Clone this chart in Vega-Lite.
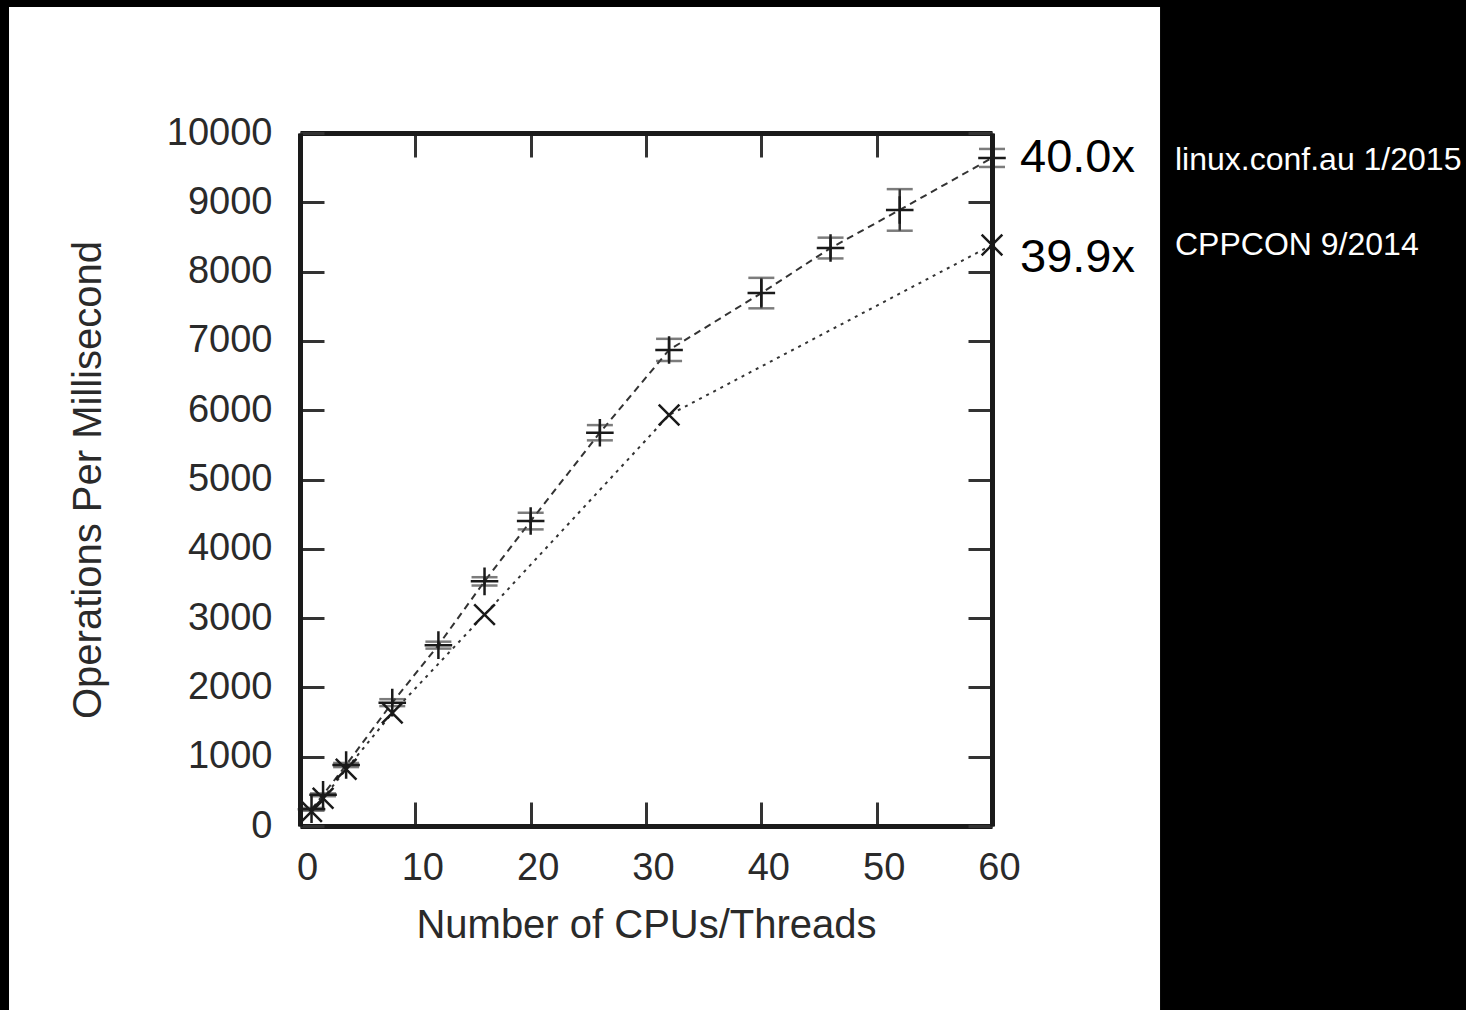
{
  "$schema": "https://vega.github.io/schema/vega-lite/v6.json",
  "width": 692,
  "height": 693,
  "autosize": {"type": "none"},
  "padding": {"left": 300, "top": 133, "right": 474, "bottom": 184},
  "background": "black",
  "config": {
    "view": {"stroke": null},
    "font": "Liberation Sans",
    "axis": {
      "grid": false,
      "labelFont": "Liberation Sans",
      "labelFontSize": 38,
      "labelColor": "#2a2a2a",
      "labelFlush": false,
      "titleFont": "Liberation Sans",
      "titleFontSize": 40,
      "titleFontWeight": "normal",
      "titleColor": "#2a2a2a",
      "tickSize": -24,
      "tickWidth": 3,
      "tickColor": "#333",
      "domainWidth": 5,
      "domainColor": "#1a1a1a"
    }
  },
  "datasets": {
    "runs": [
      {"series": "linux.conf.au 1/2015", "cpus": 1, "ops": 241, "lo": 221, "hi": 261},
      {"series": "linux.conf.au 1/2015", "cpus": 2, "ops": 450, "lo": 430, "hi": 470},
      {"series": "linux.conf.au 1/2015", "cpus": 4, "ops": 880, "lo": 850, "hi": 910},
      {"series": "linux.conf.au 1/2015", "cpus": 8, "ops": 1780, "lo": 1730, "hi": 1830},
      {"series": "linux.conf.au 1/2015", "cpus": 12, "ops": 2610, "lo": 2560, "hi": 2660},
      {"series": "linux.conf.au 1/2015", "cpus": 16, "ops": 3530, "lo": 3470, "hi": 3590},
      {"series": "linux.conf.au 1/2015", "cpus": 20, "ops": 4400, "lo": 4280, "hi": 4520},
      {"series": "linux.conf.au 1/2015", "cpus": 26, "ops": 5675, "lo": 5565, "hi": 5785},
      {"series": "linux.conf.au 1/2015", "cpus": 32, "ops": 6870, "lo": 6710, "hi": 7030},
      {"series": "linux.conf.au 1/2015", "cpus": 40, "ops": 7690, "lo": 7470, "hi": 7910},
      {"series": "linux.conf.au 1/2015", "cpus": 46, "ops": 8340, "lo": 8190, "hi": 8490},
      {"series": "linux.conf.au 1/2015", "cpus": 52, "ops": 8890, "lo": 8590, "hi": 9190},
      {"series": "linux.conf.au 1/2015", "cpus": 60, "ops": 9640, "lo": 9510, "hi": 9770},
      {"series": "CPPCON 9/2014", "cpus": 1, "ops": 210},
      {"series": "CPPCON 9/2014", "cpus": 2, "ops": 400},
      {"series": "CPPCON 9/2014", "cpus": 4, "ops": 820},
      {"series": "CPPCON 9/2014", "cpus": 8, "ops": 1630},
      {"series": "CPPCON 9/2014", "cpus": 16, "ops": 3050},
      {"series": "CPPCON 9/2014", "cpus": 32, "ops": 5930},
      {"series": "CPPCON 9/2014", "cpus": 60, "ops": 8384}
    ],
    "labels": [
      {"series": "linux.conf.au 1/2015", "speedup": "40.0x", "cpus": 60, "ops": 9640},
      {"series": "CPPCON 9/2014", "speedup": "39.9x", "cpus": 60, "ops": 8384}
    ]
  },
  "resolve": {"axis": {"x": "independent", "y": "independent"}},
  "layer": [
    {
      "data": {"name": "labels"},
      "transform": [{"filter": "datum.speedup == '40.0x'"}],
      "mark": {"type": "rect", "color": "white"},
      "encoding": {
        "x": {"datum": -25.23, "type": "quantitative", "scale": {"domain": [0, 60], "nice": false, "zero": false}, "axis": null},
        "x2": {"datum": 74.57},
        "y": {"datum": 11818, "type": "quantitative", "scale": {"domain": [0, 10000], "nice": false, "zero": false}, "axis": null},
        "y2": {"datum": -3000}
      }
    },
    {
      "data": {"name": "runs"},
      "mark": {"type": "line", "color": "#333", "strokeWidth": 2},
      "encoding": {
        "x": {"field": "cpus", "type": "quantitative",
          "axis": {"orient": "bottom", "zindex": 1, "format": "d", "values": [0, 10, 20, 30, 40, 50, 60], "title": "Number of CPUs/Threads", "labelPadding": 47, "titlePadding": 18, "labelOffset": 7}},
        "y": {"field": "ops", "type": "quantitative",
          "axis": {"orient": "left", "zindex": 1, "format": "d", "values": [0, 1000, 2000, 3000, 4000, 5000, 6000, 7000, 8000, 9000, 10000], "title": "Operations Per Millisecond", "labelPadding": 52, "titlePadding": 58}},
        "strokeDash": {"field": "series", "type": "nominal", "scale": {"domain": ["linux.conf.au 1/2015", "CPPCON 9/2014"], "range": [[7, 5], [3, 5]]}, "legend": null}
      }
    },
    {
      "data": {"name": "runs"},
      "mark": {"type": "rule", "color": "#333", "strokeWidth": 2.5},
      "encoding": {
        "x": {"field": "cpus", "type": "quantitative",
          "axis": {"orient": "top", "zindex": 1, "values": [0, 10, 20, 30, 40, 50, 60], "labels": false, "title": null}},
        "y": {"field": "lo", "type": "quantitative",
          "axis": {"orient": "right", "zindex": 1, "values": [0, 1000, 2000, 3000, 4000, 5000, 6000, 7000, 8000, 9000, 10000], "labels": false, "title": null}},
        "y2": {"field": "hi"}
      }
    },
    {
      "data": {"name": "runs"},
      "mark": {"type": "tick", "orient": "horizontal", "color": "#444", "size": 26, "thickness": 2.5},
      "encoding": {
        "x": {"field": "cpus", "type": "quantitative", "axis": null},
        "y": {"field": "lo", "type": "quantitative", "axis": null}
      }
    },
    {
      "data": {"name": "runs"},
      "mark": {"type": "tick", "orient": "horizontal", "color": "#444", "size": 26, "thickness": 2.5},
      "encoding": {
        "x": {"field": "cpus", "type": "quantitative", "axis": null},
        "y": {"field": "hi", "type": "quantitative", "axis": null}
      }
    },
    {
      "data": {"name": "runs"},
      "mark": {"type": "point", "filled": false, "color": "#1a1a1a", "strokeWidth": 2.5, "opacity": 1},
      "encoding": {
        "x": {"field": "cpus", "type": "quantitative", "axis": null},
        "y": {"field": "ops", "type": "quantitative", "axis": null},
        "shape": {"field": "series", "type": "nominal", "scale": {"domain": ["linux.conf.au 1/2015", "CPPCON 9/2014"], "range": ["M-1,0L1,0M0,-1L0,1", "M-0.75,-0.75L0.75,0.75M-0.75,0.75L0.75,-0.75"]}, "legend": null},
        "size": {"value": 760}
      }
    },
    {
      "data": {"name": "labels"},
      "transform": [{"filter": "datum.speedup == '40.0x'"}],
      "mark": {"type": "text", "align": "left", "baseline": "alphabetic", "dx": 28, "dy": 14, "fontSize": 47, "font": "Liberation Sans", "color": "black"},
      "encoding": {
        "x": {"field": "cpus", "type": "quantitative", "axis": null},
        "y": {"field": "ops", "type": "quantitative", "axis": null},
        "text": {"field": "speedup"}
      }
    },
    {
      "data": {"name": "labels"},
      "transform": [{"filter": "datum.speedup == '39.9x'"}],
      "mark": {"type": "text", "align": "left", "baseline": "alphabetic", "dx": 28, "dy": 27, "fontSize": 47, "font": "Liberation Sans", "color": "black"},
      "encoding": {
        "x": {"field": "cpus", "type": "quantitative", "axis": null},
        "y": {"field": "ops", "type": "quantitative", "axis": null},
        "text": {"field": "speedup"}
      }
    },
    {
      "data": {"name": "labels"},
      "transform": [{"filter": "datum.speedup == '40.0x'"}],
      "mark": {"type": "text", "align": "left", "baseline": "alphabetic", "dx": 183, "dy": 12, "fontSize": 32, "font": "Liberation Sans", "color": "white"},
      "encoding": {
        "x": {"field": "cpus", "type": "quantitative", "axis": null},
        "y": {"field": "ops", "type": "quantitative", "axis": null},
        "text": {"field": "series"}
      }
    },
    {
      "data": {"name": "labels"},
      "transform": [{"filter": "datum.speedup == '39.9x'"}],
      "mark": {"type": "text", "align": "left", "baseline": "alphabetic", "dx": 183, "dy": 10, "fontSize": 32, "font": "Liberation Sans", "color": "white"},
      "encoding": {
        "x": {"field": "cpus", "type": "quantitative", "axis": null},
        "y": {"field": "ops", "type": "quantitative", "axis": null},
        "text": {"field": "series"}
      }
    }
  ]
}
